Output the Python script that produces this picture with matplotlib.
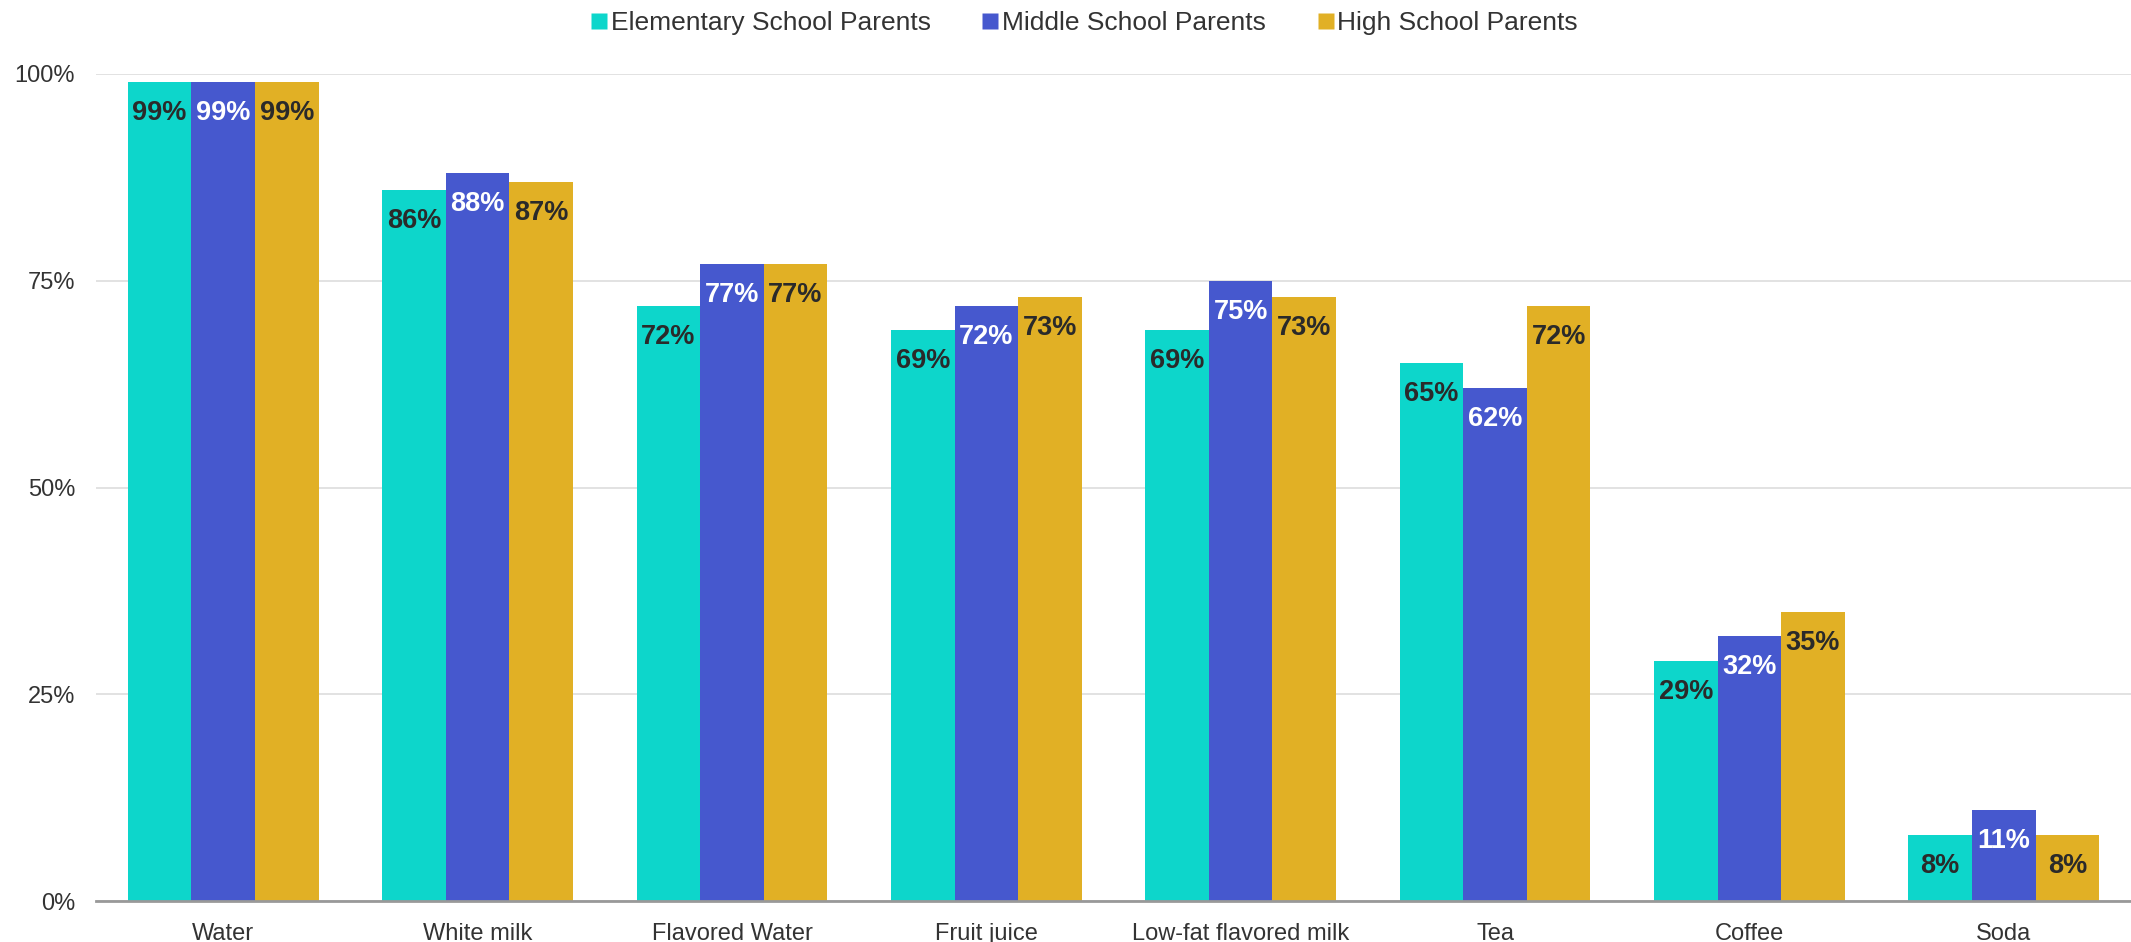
import matplotlib
matplotlib.use("Agg")
import matplotlib.pyplot as plt
from matplotlib.lines import Line2D
import numpy as np

categories = ["Water", "White milk", "Flavored Water", "Fruit juice",
              "Low-fat flavored milk", "Tea", "Coffee", "Soda"]
series_names = ["Elementary School Parents", "Middle School Parents", "High School Parents"]
elementary = [99, 86, 72, 69, 69, 65, 29, 8]
middle = [99, 88, 77, 72, 75, 62, 32, 11]
high = [99, 87, 77, 73, 73, 72, 35, 8]
yticks = [0, 25, 50, 75, 100]
ytick_labels = ["0%", "25%", "50%", "75%", "100%"]

colors = ["#0dd6cb", "#4658ce", "#e1b025"]
label_colors = ["#2a2a2a", "#ffffff", "#2a2a2a"]

plt.rcParams['font.family'] = ['Liberation Sans', 'DejaVu Sans']

fig = plt.figure(figsize=(21.31, 9.42), dpi=100)
ax = fig.add_axes([96/2131, 41/942, 1 - 96/2131, 827/942])

x = np.arange(len(categories))
w = 0.25
data = [elementary, middle, high]
for i, (vals, c, lc) in enumerate(zip(data, colors, label_colors)):
    pos = x + (i - 1) * w
    ax.bar(pos, vals, width=w, color=c, edgecolor='none', zorder=2)
    for p, v in zip(pos, vals):
        ax.annotate(f"{v}%", (p, v), xytext=(0, -31), textcoords='offset pixels',
                    ha='center', va='center', fontsize=19.5, fontweight='bold',
                    color=lc, zorder=3)

ax.set_xlim(-0.5, len(categories) - 0.5)
ax.set_ylim(0, 100)
ax.set_yticks(yticks)
ax.set_yticklabels(ytick_labels)
ax.set_xticks(x)
ax.set_xticklabels(categories)
ax.tick_params(axis='both', length=0, labelsize=17, colors='#333333')
ax.tick_params(axis='y', pad=15)
ax.tick_params(axis='x', pad=16)
ax.yaxis.grid(True, color='#dddddd', linewidth=1.2, zorder=0)
ax.set_axisbelow(True)
for s in ['top', 'right', 'left']:
    ax.spines[s].set_visible(False)
ax.spines['bottom'].set_color('#999999')
ax.spines['bottom'].set_linewidth(2)
ax.spines['bottom'].set_zorder(4)

handles = [Line2D([0], [0], marker='s', linestyle='none', markersize=11.5,
                  markerfacecolor=c, markeredgecolor='none') for c in colors]
fig.legend(handles, series_names, loc='center', bbox_to_anchor=(1084/2131, 1 - 23/942),
           ncol=3, frameon=False, fontsize=19, handletextpad=0.1, columnspacing=1.9,
           handlelength=0.7, labelcolor='#333333')

fig.savefig("out.png", dpi=100)
